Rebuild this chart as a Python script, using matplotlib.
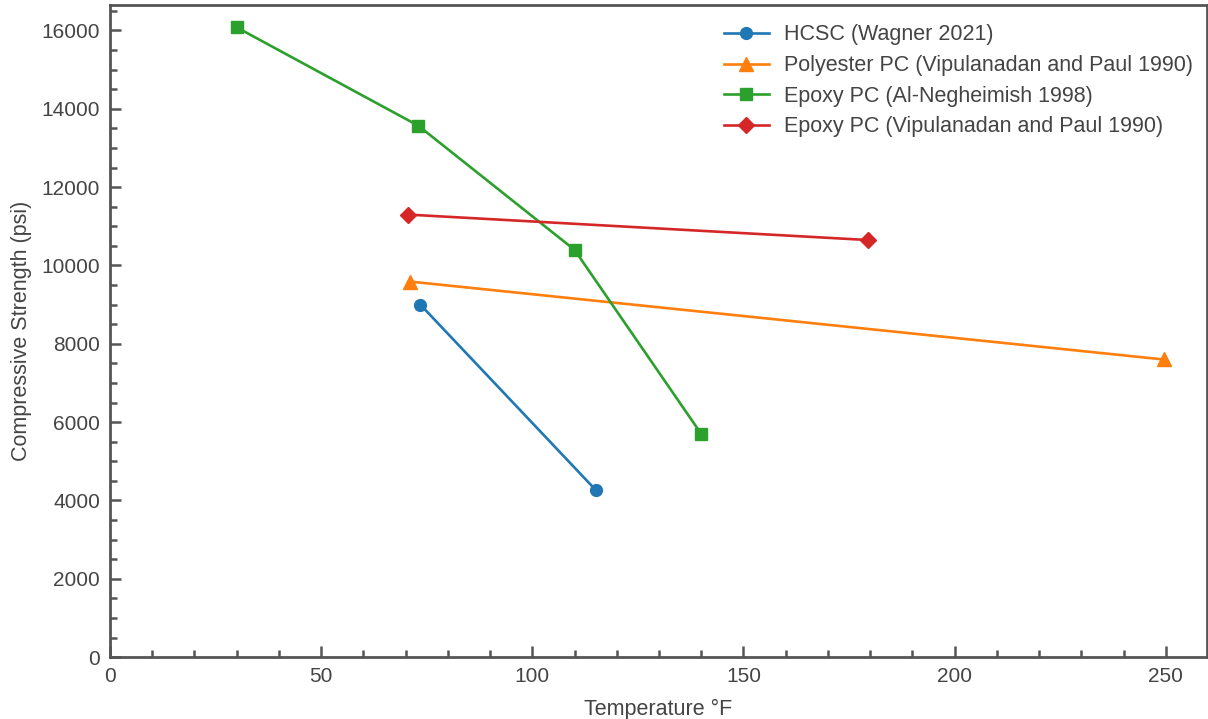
import matplotlib.pyplot as plt
from matplotlib.ticker import MultipleLocator

plt.rcParams['font.family'] = ['Liberation Sans', 'DejaVu Sans']

# HCSC (Wagner 2021)
hcsc_t = [73.5, 115]
hcsc_s = [9000, 4270]
# Polyester PC (Vipulanadan and Paul 1990)
poly_t = [71, 249.5]
poly_s = [9590, 7600]
# Epoxy PC (Al-Negheimish 1998)
epoxy_an_t = [30, 73, 110, 140]
epoxy_an_s = [16080, 13570, 10400, 5700]
# Epoxy PC (Vipulanadan and Paul 1990)
epoxy_vp_t = [70.5, 179.5]
epoxy_vp_s = [11300, 10650]

txt = '#444444'
spine = '#555555'

fig = plt.figure(figsize=(12.08, 7.19), dpi=100)
ax = fig.add_axes([0.091, 0.086, 0.908, 0.907])

ax.plot(hcsc_t, hcsc_s, '-o', color='#1f77b4', lw=1.9, ms=8.5, label='HCSC (Wagner 2021)')
ax.plot(poly_t, poly_s, '-^', color='#ff7f0e', lw=1.9, ms=9.5, label='Polyester PC (Vipulanadan and Paul 1990)')
ax.plot(epoxy_an_t, epoxy_an_s, '-s', color='#2ca02c', lw=1.9, ms=9, label='Epoxy PC (Al-Negheimish 1998)')
ax.plot(epoxy_vp_t, epoxy_vp_s, '-D', color='#d62728', lw=1.9, ms=8.5, label='Epoxy PC (Vipulanadan and Paul 1990)')

ax.set_xlim(0, 259.7)
ax.set_ylim(0, 16650)
ax.xaxis.set_major_locator(MultipleLocator(50))
ax.xaxis.set_minor_locator(MultipleLocator(10))
ax.yaxis.set_major_locator(MultipleLocator(2000))
ax.yaxis.set_minor_locator(MultipleLocator(500))

for s in ax.spines.values():
    s.set_color(spine)
    s.set_linewidth(2)
ax.tick_params(which='both', direction='in', color=spine, width=1.8, labelcolor=txt, labelsize=15)
ax.tick_params(which='major', length=8, pad=7)
ax.tick_params(which='minor', length=5)

ax.set_xlabel('Temperature °F', fontsize=15.5, color=txt, labelpad=9)
ax.set_ylabel('Compressive Strength (psi)', fontsize=15.5, color=txt, labelpad=7)

leg = ax.legend(loc='upper right', bbox_to_anchor=(1.005, 1.0), frameon=False, fontsize=15.5,
                borderaxespad=0.5, handlelength=2.1, handletextpad=0.7, labelspacing=0.45)
for t in leg.get_texts():
    t.set_color(txt)

fig.savefig('out.png', dpi=100)
